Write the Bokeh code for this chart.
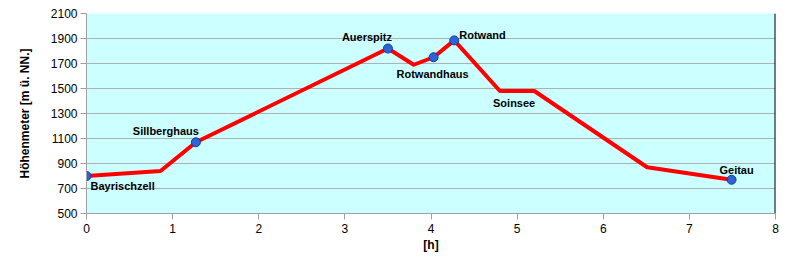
from bokeh.plotting import figure
from bokeh.models import ColumnDataSource, FixedTicker, Span, Range1d
from bokeh.core.properties import value
from bokeh.embed import file_html
from bokeh.resources import INLINE

# profile data: time [h] and elevation [m]
hours = [0.0, 0.86, 1.27, 3.5, 3.8, 4.03, 4.27, 4.8, 5.2, 6.51, 7.49]
elev = [800, 840, 1070, 1820, 1690, 1750, 1885, 1480, 1480, 870, 770]

# named waypoints with markers
pt_names = ["Bayrischzell", "Sillberghaus", "Auerspitz", "Rotwandhaus", "Rotwand", "Geitau"]
pt_hours = [0.0, 1.27, 3.5, 4.03, 4.27, 7.49]
pt_elev = [800, 1070, 1820, 1750, 1885, 770]

# label-only waypoint
lake_name = ["Soinsee"]
lake_hours = [5.0]
lake_elev = [1480]

y_ticks = [500, 700, 900, 1100, 1300, 1500, 1700, 1900, 2100]
x_ticks = [0, 1, 2, 3, 4, 5, 6, 7, 8]

# label pixel offsets & alignment (styles)
lbl_dx = [4, -30, -21, -1, 5, 5]
lbl_dy = [10, -11, -12, 17, -5, -10]
lbl_align = ["left", "center", "center", "center", "left", "center"]

FONT = "Liberation Sans"

p = figure(width=795, height=265, output_backend="svg", toolbar_location=None,
           x_range=Range1d(0, 8), y_range=Range1d(500, 2100),
           min_border_left=86, min_border_right=20, min_border_top=13, min_border_bottom=52)

p.background_fill_color = "#CCFFFF"
p.border_fill_color = "white"
p.outline_line_color = None

p.xgrid.grid_line_color = None
p.ygrid.grid_line_color = "#B0B0B0"
p.ygrid.grid_line_width = 1

p.yaxis.ticker = FixedTicker(ticks=y_ticks)
p.xaxis.ticker = FixedTicker(ticks=x_ticks)
for ax in (p.xaxis[0], p.yaxis[0]):
    ax.axis_line_color = "#A0A0A0"
    ax.major_tick_line_color = "#A0A0A0"
    ax.major_tick_out = 6
    ax.major_tick_in = 0
    ax.minor_tick_line_color = None
    ax.major_label_text_font = FONT
    ax.major_label_text_font_size = "12px"
    ax.major_label_text_color = "black"
    ax.axis_label_text_font = FONT
    ax.axis_label_text_font_style = "bold"
    ax.axis_label_text_font_size = "12px"
    ax.axis_label_text_color = "black"

p.yaxis.axis_label = "Höhenmeter [m ü. NN.]"
p.yaxis.axis_label_standoff = 16
p.yaxis.major_label_standoff = 3
p.xaxis.axis_label = "[h]"
p.xaxis.axis_label_standoff = 2
p.xaxis.major_label_standoff = 4

p.add_layout(Span(location=8, dimension="height", line_color="black", line_width=2))

p.line(hours, elev, line_color="red", line_width=4, line_join="round")

src = ColumnDataSource(dict(x=pt_hours, y=pt_elev, name=pt_names,
                            dx=lbl_dx, dy=lbl_dy, align=lbl_align))
p.scatter("x", "y", source=src, size=9, fill_color="#2E63D6", line_color="#123C9C", line_width=1)

p.text("x", "y", text="name", source=src, x_offset="dx", y_offset="dy",
       text_align="align", text_baseline="middle",
       text_font=value(FONT), text_font_style="bold", text_font_size="11px", text_color="black")

p.text(lake_hours, lake_elev, text=lake_name, x_offset=-3, y_offset=12,
       text_align="center", text_baseline="middle",
       text_font=value(FONT), text_font_style="bold", text_font_size="11px", text_color="black")

open("out.html", "w").write(file_html(p, INLINE))
